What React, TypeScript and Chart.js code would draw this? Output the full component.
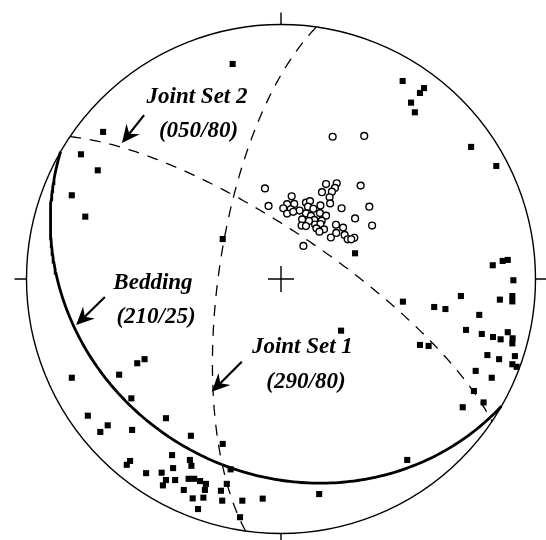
import React, { useEffect, useRef } from "react";
import { Chart, registerables } from "chart.js";

Chart.register(...registerables);

// Planes: [dip direction, dip] as drawn on the net (lower hemisphere, equal-area)
const beddingPlane = [210, 25];
const jointSet1Plane = [278, 70];
const jointSet2Plane = [34, 75];

// Poles to joints (filled squares), net coordinates in % of net radius [east, north]
const jointPoles: number[][] = [
  [-19.0, 84.5], [47.8, 77.8], [56.2, 75.0], [54.6, 73.1], [51.1, 69.3], [52.6, 65.5],
  [-69.9, 57.8], [-78.6, 49.0], [-72.0, 42.7], [-82.2, 32.9], [-76.9, 24.5], [-22.9, 15.7],
  [29.1, 10.1], [74.7, 51.9], [84.6, 44.4], [87.1, 7.1], [89.1, 7.5], [83.2, 5.4],
  [91.3, -0.5], [-82.2, -38.8], [-63.6, -37.6], [-56.5, -33.1], [-53.6, -31.5], [-58.8, -46.9],
  [23.6, -20.3], [47.9, -8.9], [70.7, -6.7], [86.0, -8.1], [90.9, -6.7], [90.9, -8.8],
  [60.2, -11.0], [64.6, -11.8], [77.9, -14.1], [72.7, -20.0], [78.9, -21.6], [83.3, -22.8],
  [86.3, -23.7], [89.1, -20.9], [91.0, -23.3], [90.9, -25.3], [54.6, -25.9], [58.0, -26.3],
  [81.1, -29.9], [85.7, -31.5], [91.9, -30.3], [90.9, -33.5], [92.6, -34.5], [76.5, -36.1],
  [82.8, -38.8], [75.8, -44.0], [79.6, -48.5], [71.4, -50.4], [49.6, -71.1], [-75.9, -53.7],
  [-68.1, -57.5], [-71.0, -60.1], [-58.5, -59.3], [-45.2, -54.7], [-35.4, -61.6], [-42.8, -69.2],
  [-35.8, -71.1], [-35.2, -73.4], [-59.3, -71.5], [-60.6, -73.0], [-42.4, -74.3], [-53.0, -76.3],
  [-46.9, -76.1], [-45.2, -79.0], [-41.6, -79.0], [-46.4, -81.1], [-36.3, -78.5], [-34.1, -78.5],
  [-31.8, -79.4], [-38.2, -82.9], [-34.7, -86.2], [-32.6, -90.4], [-22.9, -64.8], [-19.8, -74.8],
  [-29.5, -80.5], [-29.9, -82.9], [-30.5, -85.9], [-21.3, -80.5], [-23.6, -83.2], [-23.1, -87.1],
  [-15.2, -87.1], [-7.2, -86.3], [-16.1, -93.6], [15.0, -84.5],
];

// Poles to bedding (open circles)
const beddingPoles: number[][] = [
  [20.3, 55.9], [32.7, 56.2], [-6.3, 35.6], [-4.9, 28.7], [17.7, 37.3], [21.9, 37.6],
  [21.2, 35.8], [16.1, 34.1], [20.0, 34.3], [19.1, 32.1], [31.3, 36.7], [4.2, 32.5],
  [2.4, 29.4], [5.2, 29.5], [0.9, 27.8], [3.8, 27.4], [2.4, 25.7], [7.3, 26.9],
  [9.8, 30.0], [11.4, 30.6], [10.6, 28.4], [12.7, 27.6], [15.5, 28.9], [19.3, 29.7],
  [23.8, 27.8], [34.7, 28.4], [9.8, 25.8], [8.3, 23.4], [11.8, 24.8], [15.3, 25.9],
  [17.7, 24.9], [13.1, 23.2], [16.0, 22.9], [11.0, 22.8], [8.1, 21.0], [9.8, 20.8],
  [13.4, 21.4], [15.5, 21.6], [13.9, 19.9], [16.9, 19.5], [15.1, 18.6], [29.1, 23.8],
  [35.8, 21.0], [21.6, 21.3], [24.4, 20.2], [21.7, 18.1], [19.6, 16.3], [25.0, 17.3],
  [26.2, 15.6], [28.8, 16.2], [27.6, 15.6], [8.8, 13.0], [4.8, 26.4],
];

// Annotation layout (net coordinates)
const labels = [
  { text: "Joint Set 2", x: -33.0, y: 71.3 },
  { text: "(050/80)", x: -32.4, y: 58.0 },
  { text: "Bedding", x: -50.3, y: -1.6 },
  { text: "(210/25)", x: -49.1, y: -14.9 },
  { text: "Joint Set 1", x: 8.4, y: -26.9 },
  { text: "(290/80)", x: 9.8, y: -40.5 },
];
const arrows = [
  { from: [-53.8, 64.4], to: [-62.5, 53.4] },
  { from: [-69.2, -7.1], to: [-80.5, -18.1] },
  { from: [-15.4, -32.5], to: [-27.2, -44.3] },
];

function greatCircle(plane: number[]) {
  const dd = (plane[0] * Math.PI) / 180;
  const d = (plane[1] * Math.PI) / 180;
  const s = [Math.sin(dd - Math.PI / 2), Math.cos(dd - Math.PI / 2), 0];
  const v = [Math.sin(dd) * Math.cos(d), Math.cos(dd) * Math.cos(d), Math.sin(d)];
  const pts: { x: number; y: number }[] = [];
  for (let i = 0; i <= 180; i++) {
    const t = (i * Math.PI) / 180;
    const e = Math.cos(t) * s[0] + Math.sin(t) * v[0];
    const n = Math.cos(t) * s[1] + Math.sin(t) * v[1];
    const z = Math.min(1, Math.max(-1, Math.cos(t) * s[2] + Math.sin(t) * v[2]));
    const plunge = Math.asin(z);
    const trend = Math.atan2(e, n);
    const r = Math.SQRT2 * Math.sin((Math.PI / 2 - plunge) / 2) * 100;
    pts.push({ x: r * Math.sin(trend), y: r * Math.cos(trend) });
  }
  return pts;
}

const netPlugin = {
  id: "net",
  afterDatasetsDraw(chart: any) {
    const ctx = chart.ctx;
    const xs = chart.scales.x;
    const ys = chart.scales.y;
    const cx = xs.getPixelForValue(0);
    const cy = ys.getPixelForValue(0);
    const R = xs.getPixelForValue(100) - cx;
    ctx.save();
    ctx.strokeStyle = "#000";
    ctx.lineWidth = 1.4;
    ctx.beginPath();
    ctx.arc(cx, cy, R, 0, Math.PI * 2);
    ctx.stroke();
    // ticks
    ctx.beginPath();
    ctx.moveTo(cx, cy - R); ctx.lineTo(cx, cy - R - 12);
    ctx.moveTo(cx, cy + R); ctx.lineTo(cx, cy + R + 12);
    ctx.moveTo(cx - R, cy); ctx.lineTo(cx - R - 12, cy);
    ctx.moveTo(cx + R, cy); ctx.lineTo(cx + R + 12, cy);
    // centre cross
    ctx.moveTo(cx - 13, cy); ctx.lineTo(cx + 13, cy);
    ctx.moveTo(cx, cy - 13); ctx.lineTo(cx, cy + 13);
    ctx.stroke();
    // labels
    ctx.fillStyle = "#000";
    ctx.font = "italic bold 23px 'Liberation Serif', 'DejaVu Serif', serif";
    ctx.textAlign = "center";
    ctx.textBaseline = "middle";
    for (const l of labels) {
      ctx.fillText(l.text, xs.getPixelForValue(l.x), ys.getPixelForValue(l.y));
    }
    // arrows
    for (const a of arrows) {
      const x0 = xs.getPixelForValue(a.from[0]);
      const y0 = ys.getPixelForValue(a.from[1]);
      const x1 = xs.getPixelForValue(a.to[0]);
      const y1 = ys.getPixelForValue(a.to[1]);
      const ang = Math.atan2(y1 - y0, x1 - x0);
      const hl = 18, hw = 8.5, notch = 12;
      const bx = x1 - Math.cos(ang) * notch;
      const by = y1 - Math.sin(ang) * notch;
      ctx.lineWidth = 2.2;
      ctx.beginPath();
      ctx.moveTo(x0, y0);
      ctx.lineTo(bx, by);
      ctx.stroke();
      ctx.beginPath();
      ctx.moveTo(x1, y1);
      ctx.lineTo(x1 - Math.cos(ang) * hl - Math.sin(ang) * hw, y1 - Math.sin(ang) * hl + Math.cos(ang) * hw);
      ctx.lineTo(bx, by);
      ctx.lineTo(x1 - Math.cos(ang) * hl + Math.sin(ang) * hw, y1 - Math.sin(ang) * hl - Math.cos(ang) * hw);
      ctx.closePath();
      ctx.fill();
    }
    ctx.restore();
  },
};

export default function App() {
  const ref = useRef<HTMLCanvasElement | null>(null);
  useEffect(() => {
    if (!ref.current) return;
    const lineDs = (data: any, width: number, dash: number[]) => ({
      type: "line" as const,
      data,
      showLine: true,
      borderColor: "#000",
      borderWidth: width,
      borderDash: dash,
      pointRadius: 0,
      fill: false,
      tension: 0,
      clip: false as any,
    });
    const chart = new Chart(ref.current, {
      type: "scatter",
      data: {
        datasets: [
          {
            data: beddingPoles.map((p) => ({ x: p[0], y: p[1] })),
            pointStyle: "circle",
            pointRadius: 3.4,
            backgroundColor: "#fff",
            borderColor: "#000",
            borderWidth: 1.4,
            clip: false as any,
          },
          {
            data: jointPoles.map((p) => ({ x: p[0], y: p[1] })),
            pointStyle: "rect",
            pointRadius: 4.3,
            backgroundColor: "#000",
            borderColor: "#000",
            borderWidth: 0,
            clip: false as any,
          },
          lineDs(greatCircle(beddingPlane), 2.8, []),
          lineDs(greatCircle(jointSet1Plane), 1.3, [11, 9]),
          lineDs(greatCircle(jointSet2Plane), 1.3, [11, 9]),
        ] as any,
      },
      options: {
        animation: false,
        responsive: false,
        layout: { padding: { left: 26.5, right: 10.5, top: 24.5, bottom: 6.5 } },
        scales: {
          x: { type: "linear", min: -100, max: 100, display: false },
          y: { type: "linear", min: -100, max: 100, display: false },
        },
        plugins: { legend: { display: false }, tooltip: { enabled: false } },
        events: [],
      },
      plugins: [netPlugin],
    });
    return () => chart.destroy();
  }, []);
  return (
    <div style={{ position: "absolute", left: 0, top: 0, width: 546, height: 540, background: "#fff" }}>
      <canvas ref={ref} width={546} height={540} />
    </div>
  );
}
